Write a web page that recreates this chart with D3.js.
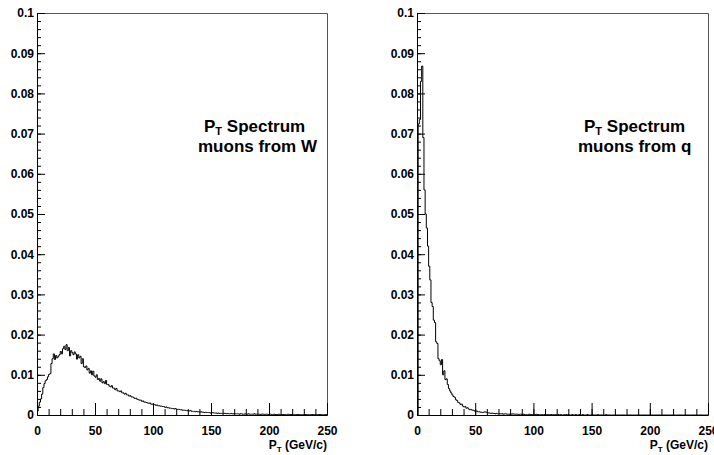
<!DOCTYPE html>
<html><head><meta charset="utf-8">
<script src="https://cdn.jsdelivr.net/npm/d3@7"></script>
<style>
html,body{margin:0;padding:0;background:#fff;}
text{font-family:"Liberation Sans",Arial,Helvetica,sans-serif;font-weight:bold;fill:#000;}
</style></head>
<body><svg id="c" width="714" height="455"></svg>
<script>
// bin edges: 250 bins of 1 GeV from 0 to 250
const binWidth = 1;
const xDomain = [0, 250];
const yDomain = [0, 0.1];
const xMajorTicks = [0, 50, 100, 150, 200, 250];
const yMajorTicks = [0, 0.01, 0.02, 0.03, 0.04, 0.05, 0.06, 0.07, 0.08, 0.09, 0.1];
const axisTitle = ["P", "T", " (GeV/c)"];
const labelsW = ["P", "T", " Spectrum", "muons from W"];
const labelsQ = ["P", "T", " Spectrum", "muons from q"];

// muons from W
const muonsW = [
0.0010,0.0022,0.0032,0.0040,0.0052,0.0068,0.0078,0.0085,0.0088,0.0095, // 0-9
0.0101,0.0103,0.0128,0.0140,0.0152,0.0138,0.0148,0.0142,0.0146,0.0150, // 10-19
0.0158,0.0152,0.0165,0.0171,0.0163,0.0175,0.0160,0.0168,0.0147,0.0160, // 20-29
0.0155,0.0150,0.0157,0.0152,0.0139,0.0150,0.0142,0.0146,0.0128,0.0140, // 30-39
0.0120,0.0118,0.0122,0.0112,0.0116,0.0104,0.0110,0.0100,0.0109,0.0097, // 40-49
0.0094,0.0100,0.0088,0.0091,0.0084,0.0090,0.0080,0.0083,0.0078,0.0086, // 50-59
0.0076,0.0076,0.0072,0.0070,0.0073,0.0067,0.0067,0.0063,0.0066,0.0060, // 60-69
0.0060,0.0058,0.0060,0.0055,0.0055,0.0052,0.0054,0.0050,0.0050,0.0047, // 70-79
0.0048,0.0045,0.0045,0.0043,0.0041,0.0042,0.0039,0.0038,0.0037,0.0037, // 80-89
0.0034,0.0035,0.0032,0.0032,0.0031,0.0030,0.0029,0.0030,0.0027,0.0027, // 90-99
0.0026,0.0026,0.0024,0.0025,0.0023,0.0023,0.0022,0.0022,0.0021,0.0021, // 100-109
0.0019,0.0020,0.0018,0.0018,0.0017,0.0017,0.0016,0.0016,0.0015,0.0016, // 110-119
0.0014,0.0014,0.0014,0.0013,0.0013,0.0012,0.0012,0.0012,0.0011,0.0011, // 120-129
0.0010,0.0010,0.0011,0.0009,0.0009,0.0009,0.0008,0.0009,0.0008,0.0008, // 130-139
0.0007,0.0008,0.0007,0.0007,0.0006,0.0007,0.0006,0.0006,0.0006,0.0005, // 140-149
0.0005,0.0006,0.0005,0.0005,0.0005,0.0004,0.0005,0.0004,0.0004,0.0004, // 150-159
0.0004,0.0004,0.0004,0.0003,0.0004,0.0003,0.0003,0.0004,0.0003,0.0003, // 160-169
0.0003,0.0003,0.0003,0.0003,0.0002,0.0003,0.0003,0.0002,0.0002,0.0003, // 170-179
0.0002,0.0002,0.0003,0.0002,0.0002,0.0002,0.0002,0.0003,0.0002,0.0002, // 180-189
0.0002,0.0002,0.0001,0.0002,0.0002,0.0002,0.0001,0.0002,0.0002,0.0001, // 190-199
0.0002,0.0002,0.0001,0.0001,0.0002,0.0001,0.0001,0.0001,0.0002,0.0001, // 200-209
0.0001,0.0001,0.0001,0.0001,0.0001,0.0001,0.0002,0.0001,0.0001,0.0001, // 210-219
0.0001,0.0001,0.0001,0.0001,0.0001,0.0001,0.0001,0.0001,0.0001,0.0001, // 220-229
0.0001,0.0001,0.0001,0.0001,0.0001,0.0001,0.0001,0.0001,0.0001,0.0001, // 230-239
0.0001,0.0001,0.0001,0.0001,0.0001,0.0001,0.0001,0.0001,0.0001,0.0001  // 240-249
];

// muons from q
const muonsQ = [
0.0000,0.0724,0.0735,0.0830,0.0868,0.0690,0.0560,0.0500,0.0465,0.0420, // 0-9
0.0370,0.0336,0.0280,0.0270,0.0236,0.0230,0.0182,0.0178,0.0140,0.0135, // 10-19
0.0125,0.0138,0.0100,0.0110,0.0088,0.0090,0.0076,0.0066,0.0060,0.0055, // 20-29
0.0050,0.0046,0.0044,0.0038,0.0036,0.0031,0.0030,0.0026,0.0027,0.0022, // 30-39
0.0020,0.0021,0.0017,0.0018,0.0015,0.0013,0.0014,0.0012,0.0012,0.0010, // 40-49
0.0009,0.0010,0.0008,0.0008,0.0007,0.0007,0.0006,0.0007,0.0008,0.0007, // 50-59
0.0006,0.0005,0.0005,0.0004,0.0005,0.0004,0.0004,0.0003,0.0004,0.0003, // 60-69
0.0003,0.0003,0.0003,0.0003,0.0002,0.0003,0.0003,0.0002,0.0002,0.0002, // 70-79
0.0003,0.0002,0.0003,0.0002,0.0002,0.0002,0.0002,0.0001,0.0002,0.0002, // 80-89
0.0001,0.0002,0.0001,0.0001,0.0001,0.0001,0.0002,0.0001,0.0001,0.0001, // 90-99
0.0001,0.0001,0.0002,0.0001,0.0001,0.0000,0.0001,0.0001,0.0000,0.0001, // 100-109
0.0001,0.0000,0.0001,0.0000,0.0001,0.0001,0.0000,0.0001,0.0000,0.0001, // 110-119
0.0000,0.0001,0.0000,0.0001,0.0000,0.0000,0.0001,0.0000,0.0001,0.0000, // 120-129
0.0001,0.0000,0.0000,0.0001,0.0000,0.0000,0.0001,0.0000,0.0000,0.0001, // 130-139
0.0000,0.0000,0.0001,0.0000,0.0000,0.0000,0.0001,0.0000,0.0000,0.0000, // 140-149
0.0001,0.0000,0.0000,0.0000,0.0000,0.0001,0.0000,0.0000,0.0000,0.0000, // 150-159
0.0000,0.0000,0.0001,0.0000,0.0000,0.0000,0.0000,0.0000,0.0000,0.0000, // 160-169
0.0000,0.0000,0.0000,0.0000,0.0000,0.0000,0.0000,0.0000,0.0000,0.0000, // 170-179
0.0000,0.0000,0.0000,0.0000,0.0000,0.0000,0.0000,0.0000,0.0000,0.0000, // 180-189
0.0000,0.0000,0.0000,0.0000,0.0000,0.0000,0.0000,0.0000,0.0000,0.0000, // 190-199
0.0000,0.0000,0.0000,0.0000,0.0000,0.0000,0.0000,0.0000,0.0000,0.0000, // 200-209
0.0000,0.0000,0.0000,0.0000,0.0000,0.0000,0.0000,0.0000,0.0000,0.0000, // 210-219
0.0000,0.0000,0.0000,0.0000,0.0000,0.0000,0.0000,0.0000,0.0000,0.0000, // 220-229
0.0000,0.0000,0.0000,0.0000,0.0000,0.0000,0.0000,0.0000,0.0000,0.0000, // 230-239
0.0000,0.0000,0.0000,0.0000,0.0000,0.0000,0.0000,0.0000,0.0000,0.0000  // 240-249
];

const svg = d3.select("#c");
svg.append("rect").attr("width",714).attr("height",455).attr("fill","#fff");

function yFmt(d){ return d === 0 ? "0" : String(+d.toFixed(2)); }

function panel(left, right, data, labels, labelX, idx){
  const x = d3.scaleLinear().domain(xDomain).range([left, right]);
  const y = d3.scaleLinear().domain(yDomain).range([415, 13]);
  const g = svg.append("g");

  // frame (top, right)
  g.append("path")
    .attr("d", `M${left},${y(0.1)+0.5}H${right+0.5}V${y(0)}`)
    .attr("fill","none").attr("stroke","#555").attr("stroke-width",1);

  const cid = "clip"+idx;
  svg.append("clipPath").attr("id",cid).append("rect")
    .attr("x",left).attr("y",y(0.1)).attr("width",right-left+1).attr("height",y(0)-y(0.1)+1);

  // histogram
  const pts = [[0,0]].concat(data.map((v,i)=>[i*binWidth, v]));
  pts.push([data.length*binWidth, data[data.length-1]]);
  const line = d3.line().x(d=>x(d[0])).y(d=>y(d[1])).curve(d3.curveStepAfter);
  g.append("path").attr("clip-path",`url(#${cid})`)
    .attr("d", line(pts)).attr("fill","none").attr("stroke","#000").attr("stroke-width",1);

  const styleText = s=>s.selectAll("text").attr("font-size",12).attr("font-family","Liberation Sans, Arial, sans-serif").attr("font-weight","bold").attr("fill","#000");

  // y axis minor
  const yMinor = d3.range(0, 0.1001, 0.002);
  g.append("g").attr("transform",`translate(${left},0)`)
    .call(d3.axisLeft(y).tickValues(yMinor).tickFormat("").tickSizeInner(-4).tickSizeOuter(0))
    .call(s=>s.selectAll("line").attr("stroke","#000"))
    .call(s=>s.select(".domain").attr("stroke","#000"));
  // y axis major
  g.append("g").attr("transform",`translate(${left},0)`)
    .call(d3.axisLeft(y).tickValues(yMajorTicks).tickFormat(yFmt).tickSizeInner(-8).tickSizeOuter(0).tickPadding(3))
    .call(s=>s.select(".domain").attr("stroke","#000"))
    .call(s=>s.selectAll("line").attr("stroke","#000"))
    .call(styleText);

  // x axis minor
  const xMinor = d3.range(0, 251, 10);
  g.append("g").attr("transform",`translate(0,415)`)
    .call(d3.axisBottom(x).tickValues(xMinor).tickFormat("").tickSizeInner(-6).tickSizeOuter(0))
    .call(s=>s.selectAll("line").attr("stroke","#000"))
    .call(s=>s.select(".domain").attr("stroke","#000"));
  g.append("g").attr("transform",`translate(0,415)`)
    .call(d3.axisBottom(x).tickValues(xMajorTicks).tickFormat(d3.format("d")).tickSizeInner(-12).tickSizeOuter(0).tickPadding(11))
    .call(s=>s.selectAll("line").attr("stroke","#000"))
    .call(s=>s.select(".domain").attr("stroke","#000"))
    .call(styleText);

  // axis title
  const t = g.append("text").attr("x", right).attr("y", 449).attr("text-anchor","end").attr("font-size",12);
  t.append("tspan").text(axisTitle[0]);
  t.append("tspan").attr("font-size",8).attr("dy",2.5).text(axisTitle[1]);
  t.append("tspan").attr("dy",-2.5).text(axisTitle[2]);

  // labels
  const l1 = g.append("text").attr("x", labelX).attr("y", 132).attr("font-size",17);
  l1.append("tspan").text(labels[0]);
  l1.append("tspan").attr("font-size",11).attr("dy",3).text(labels[1]);
  l1.append("tspan").attr("dy",-3).text(labels[2]);
  g.append("text").attr("x", labelX-6).attr("y", 152).attr("font-size",17).text(labels[3]);
}

panel(37, 327, muonsW, labelsW, 204, 0);
panel(417, 708, muonsQ, labelsQ, 584, 1);
</script></body></html>
